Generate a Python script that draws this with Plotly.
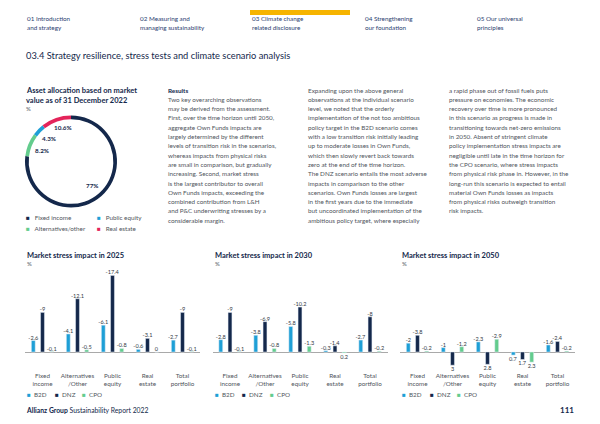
import plotly.graph_objects as go

W, H = 600, 424
OFF = 8  # page body margin of the browser page
NAVY = "#14284b"
BLUE = "#1e9fd6"
GREEN = "#63cc8d"
RED = "#e4245a"
GRAY = "#50555c"
HEAD = "#2b4170"
YELLOW = "#f6b400"
FONT = "Lato"

# ---------------- data ----------------
categories = ["Fixed income", "Alternatives/Other", "Public equity", "Real estate", "Total portfolio"]
category_ticks = ["Fixed<br>income", "Alternatives<br>/Other", "Public<br>equity", "Real<br>estate", "Total<br>portfolio"]
scenarios = ["B2D", "DNZ", "CPO"]
years = ["2025", "2030", "2050"]

b2d_2025 = [-2.6, -4.1, -6.1, -0.6, -2.7]
dnz_2025 = [-9, -12.1, -17.4, -3.1, -9]
cpo_2025 = [-0.1, -0.5, -0.8, 0, -0.1]

b2d_2030 = [-2.8, -3.8, -5.8, -0.3, -2.7]
dnz_2030 = [-9, -6.9, -10.2, -1.4, -8]
cpo_2030 = [-0.1, -0.8, -1.3, 0.2, -0.2]

b2d_2050 = [-2, -1, -2.3, 0.7, -1.6]
dnz_2050 = [-3.8, 3, 2.8, 1.7, -2.4]
cpo_2050 = [-0.2, -1.2, -2.9, 2.3, -0.2]

alloc_labels = ["Fixed income", "Alternatives/other", "Public equity", "Real estate"]
alloc_values = [77, 8.2, 4.3, 10.6]

nav_items = [("01 Introduction", "and strategy"),
             ("02 Measuring and", "managing sustainability"),
             ("03 Climate change", "related disclosure"),
             ("04 Strengthening", "our foundation"),
             ("05 Our universal", "principles")]

col1_lines = ["Two key overarching observations",
              "may be derived from the assessment.",
              "First, over the time horizon until 2050,",
              "aggregate Own Funds impacts are",
              "largely determined by the different",
              "levels of transition risk in the scenarios,",
              "whereas impacts from physical risks",
              "are small in comparison, but gradually",
              "increasing. Second, market stress",
              "is the largest contributor to overall",
              "Own Funds impacts, exceeding the",
              "combined contribution from L&H",
              "and P&C underwriting stresses by a",
              "considerable margin."]
col2_lines = ["Expanding upon the above general",
              "observations at the individual scenario",
              "level, we noted that the orderly",
              "implementation of the not too ambitious",
              "policy target in the B2D scenario comes",
              "with a low transition risk initially leading",
              "up to moderate losses in Own Funds,",
              "which then slowly revert back towards",
              "zero at the end of the time horizon.",
              "The DNZ scenario entails the most adverse",
              "impacts in comparison to the other",
              "scenarios. Own Funds losses are largest",
              "in the first years due to the immediate",
              "but uncoordinated implementation of the",
              "ambitious policy target, where especially"]
col3_lines = ["a rapid phase out of fossil fuels puts",
              "pressure on economies. The economic",
              "recovery over time is more pronounced",
              "in this scenario as progress is made in",
              "transitioning towards net-zero emissions",
              "in 2050. Absent of stringent climate",
              "policy implementation stress impacts are",
              "negligible until late in the time horizon for",
              "the CPO scenario, where stress impacts",
              "from physical risk phase in. However, in the",
              "long-run this scenario is expected to entail",
              "material Own Funds losses as impacts",
              "from physical risks outweigh transition",
              "risk impacts."]

series_by_year = {
    "2025": [b2d_2025, dnz_2025, cpo_2025],
    "2030": [b2d_2030, dnz_2030, cpo_2030],
    "2050": [b2d_2050, dnz_2050, cpo_2050],
}
scen_colors = [BLUE, NAVY, GREEN]
alloc_colors = [NAVY, GREEN, BLUE, RED]


def px(x):
    return (x - OFF) / W


def py(y):
    return 1 - (y - OFF) / H


def fmt(v):
    return f"{v:g}"


def note(x, y, text, size, color=GRAY, xanchor="left"):
    return dict(x=px(x), y=py(y), xref="paper", yref="paper", xanchor=xanchor, yanchor="middle",
                text=text, showarrow=False, font=dict(size=size, color=color, family=FONT))


fig = go.Figure()
annotations = []
shapes = []

BODY = 6.3

# ---------------- donut ----------------
cx, cy, R = 71, 161.5, 46
fig.add_trace(go.Pie(labels=alloc_labels, values=alloc_values, hole=0.92, sort=False,
                     direction="clockwise", rotation=0, textinfo="none",
                     marker=dict(colors=alloc_colors, line=dict(width=0)),
                     domain=dict(x=[px(cx - R), px(cx + R)], y=[py(cy + R), py(cy - R)]),
                     showlegend=False))
pie_label_pos = {"Real estate": (63, 128), "Public equity": (49, 138),
                 "Alternatives/other": (42, 150.5), "Fixed income": (92, 186)}
for lab, val in zip(alloc_labels, alloc_values):
    x, y = pie_label_pos[lab]
    annotations.append(note(x, y, f"<b>{fmt(val)}%</b>", 6.3, NAVY, "center"))

# donut legend
pie_leg_pos = {"Fixed income": (24, 218), "Public equity": (94.5, 218),
               "Alternatives/other": (24, 228.7), "Real estate": (94.5, 228.7)}
for lab, col in zip(alloc_labels, alloc_colors):
    x, y = pie_leg_pos[lab]
    annotations.append(note(x, y, f'<span style="color:{col}">■</span>&nbsp;&nbsp;&nbsp;{lab}', BODY))

# ---------------- bar charts ----------------
domains = [(25, 200), (212.5, 387.5), (400, 575)]
for i, yr in enumerate(years):
    xa = "x" if i == 0 else f"x{i + 1}"
    ya = "y" if i == 0 else f"y{i + 1}"
    for name, vals, col in zip(scenarios, series_by_year[yr], scen_colors):
        fig.add_trace(go.Bar(x=categories, y=vals, name=name, marker_color=col,
                             text=[fmt(v) for v in vals], textposition="outside",
                             textfont=dict(size=5.6, color="#333a45", family=FONT),
                             constraintext="none", cliponaxis=False,
                             xaxis=xa, yaxis=ya, showlegend=False))
    d0, d1 = domains[i]
    fig.layout[("xaxis" if i == 0 else f"xaxis{i + 1}")] = dict(
        domain=[px(d0), px(d1)], anchor=ya, type="category", showline=False, showgrid=False,
        ticks="", tickvals=categories, ticktext=category_ticks, ticklabelstandoff=5,
        tickfont=dict(size=BODY, color=GRAY, family=FONT), fixedrange=True)
    fig.layout[("yaxis" if i == 0 else f"yaxis{i + 1}")] = dict(
        domain=[py(366), py(265)], anchor=xa, range=[3.18, -19.77], showticklabels=False,
        showgrid=False, zeroline=True, zerolinecolor="#a9a9a9", zerolinewidth=1, fixedrange=True)
    annotations.append(note(d0, 255.5, f"<b>Market stress impact in {yr}</b>", 7.5, NAVY))
    annotations.append(note(d0, 263.5, "%", 6))
    for j, (name, col) in enumerate(zip(scenarios, scen_colors)):
        annotations.append(note(d0 + 27.5 * j, 394,
                                f'<span style="color:{col}">■</span>&nbsp;&nbsp;{name}', BODY))

# ---------------- header ----------------
nav_x = [25, 137.5, 250, 362.5, 475]
for (l1, l2), x in zip(nav_items, nav_x):
    annotations.append(note(x, 18, l1, BODY, HEAD))
    annotations.append(note(x, 28, l2, BODY, HEAD))
shapes.append(dict(type="rect", xref="paper", yref="paper", x0=px(250), x1=px(350),
                   y0=py(15), y1=py(10), fillcolor=YELLOW, line=dict(width=0)))
annotations.append(note(24, 56, "03.4 Strategy resilience, stress tests and climate scenario analysis",
                        9.3, NAVY))

# donut title
annotations.append(note(24, 90.5, "<b>Asset allocation based on market</b>", 7.5, NAVY))
annotations.append(note(24, 100.5, "<b>value as of 31 December 2022</b>", 7.5, NAVY))
annotations.append(note(24, 109, "%", 6))

# ---------------- text columns ----------------
annotations.append(note(165.5, 90, "<b>Results</b>", BODY, NAVY))
for x0, y0, lines in ((165.5, 99.3, col1_lines), (306, 90, col2_lines), (447, 90, col3_lines)):
    for k, t in enumerate(lines):
        annotations.append(note(x0, y0 + 9.3 * k, t.replace("&", "&amp;"), BODY))

# ---------------- footer ----------------
annotations.append(note(24, 409.5, "<b>Allianz Group</b> Sustainability Report 2022", 6.8, NAVY))
annotations.append(note(576, 409.5, "<b>111</b>", 8, NAVY, "right"))

fig.update_layout(width=W, height=H, margin=dict(l=0, r=0, t=0, b=0),
                  paper_bgcolor="white", plot_bgcolor="white",
                  barmode="group", bargap=0.21, bargroupgap=0.58,
                  annotations=annotations, shapes=shapes, showlegend=False,
                  font=dict(family=FONT, color=GRAY))

fig.write_html("out.html")
